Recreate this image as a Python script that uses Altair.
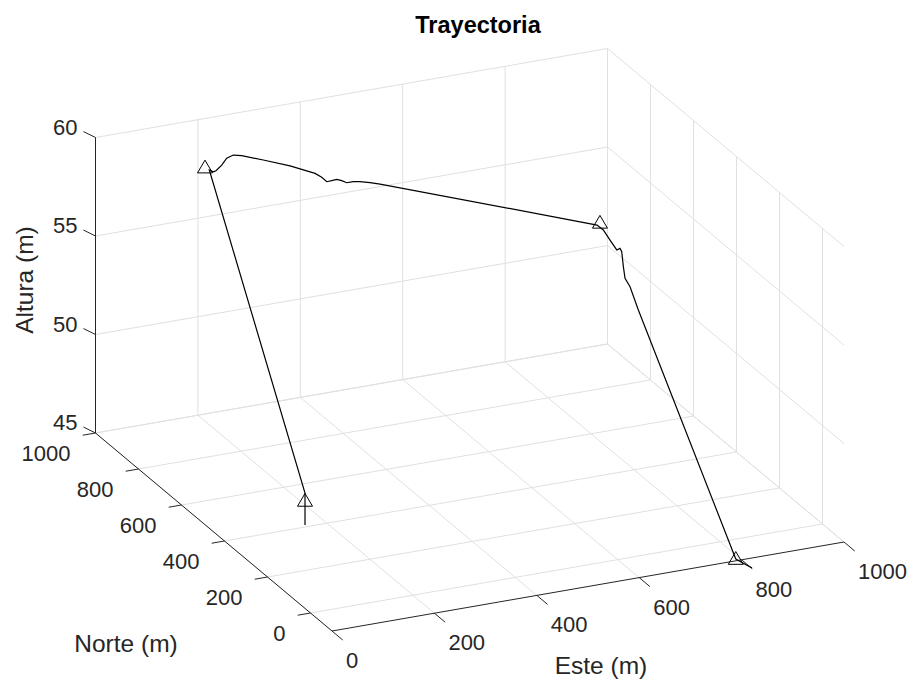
import altair as alt
import pandas as pd

# ---------------- data ----------------
titulo = "Trayectoria"
lab_este = "Este (m)"
lab_norte = "Norte (m)"
lab_altura = "Altura (m)"

este_ticks = [0, 200, 400, 600, 800, 1000]
norte_ticks = [0, 200, 400, 600, 800, 1000]
altura_ticks = [45, 50, 55, 60]
este_lim = [0, 1000]
norte_lim = [-100, 1000]
altura_lim = [45, 60]

# flown trajectory (Este, Norte, Altura)
tray_este = [161.1, 161.1, 200.8, 206.2, 209.8, 217.5, 224.2, 233.1, 244.4, 273.5,
             309.5, 343.2, 352.2, 359.0, 365.7, 372.4, 379.2, 385.9, 394.8, 403.8,
             417.3, 430.8, 723.1, 728.6, 731.8, 735.0, 736.6, 737.4, 738.2, 739.0,
             741.4, 745.4, 792.0, 801.0]
tray_norte = [409.2, 409.2, 948.8, 943.0, 939.1, 930.9, 923.7, 914.2, 902.0, 870.9,
              832.3, 796.2, 786.6, 779.3, 772.1, 764.9, 757.7, 750.5, 741.0, 731.3,
              716.8, 702.4, 389.2, 373.1, 349.5, 326.0, 314.4, 308.5, 302.8, 296.9,
              279.3, 250.2, -92.0, -146.0]
tray_altura = [45.0, 46.62, 57.91, 57.85, 57.92, 58.25, 58.63, 58.84, 58.87, 58.80,
               58.69, 58.49, 58.34, 58.15, 58.24, 58.34, 58.31, 58.24, 58.34, 58.39,
               58.41, 58.41, 57.87, 57.74, 57.43, 57.13, 57.31, 57.19, 56.48, 55.94,
               55.66, 54.73, 45.0, 45.0]

# waypoints (triangle markers)
wp_este = [161.1, 195.0, 727.0, 792.0]
wp_norte = [409.2, 955.0, 385.0, -92.0]
wp_altura = [46.22, 58.0, 58.0, 45.0]

# ---------------- 3D -> screen projection (view of the axes box) ----------------
def px(e, n):
    return f"310.5 + 0.512*datum.{e} - 0.215*datum.{n}"

def py(e, n, z):
    return f"613 - 0.089*datum.{e} - 0.18*datum.{n} - 19.7*(datum.{z} - 45)"

XS = alt.Scale(domain=[0, 915], range=[0, 915])
YS = alt.Scale(domain=[0, 683], range=[0, 683])

E0, E1 = este_lim
N0, N1 = norte_lim
Z0, Z1 = altura_lim

# grid segments built from the tick arrays
grid = []
for e in este_ticks:
    grid.append((e, N0, Z0, e, N1, Z0))      # floor
    grid.append((e, N1, Z0, e, N1, Z1))      # back wall
for n in norte_ticks:
    grid.append((E0, n, Z0, E1, n, Z0))      # floor
    grid.append((E1, n, Z0, E1, n, Z1))      # right wall
for z in altura_ticks:
    grid.append((E0, N1, z, E1, N1, z))      # back wall
    grid.append((E1, N0, z, E1, N1, z))      # right wall
grid_df = pd.DataFrame(grid, columns=["e1", "n1", "z1", "e2", "n2", "z2"])

axes_df = pd.DataFrame([
    (E0, N0, Z0, E1, N0, Z0),
    (E0, N0, Z0, E0, N1, Z0),
    (E0, N1, Z0, E0, N1, Z1),
], columns=["e1", "n1", "z1", "e2", "n2", "z2"])

ticks = []
for e in este_ticks:
    ticks.append((e, N0, Z0, e, N0 - 50, Z0))
for n in norte_ticks:
    ticks.append((E0, n, Z0, E0 - 25, n, Z0))
for z in altura_ticks:
    ticks.append((E0, N1, z, E0 - 8, N1 + 37, z))
ticks_df = pd.DataFrame(ticks, columns=["e1", "n1", "z1", "e2", "n2", "z2"])


def seg_layer(df, color, width):
    return alt.Chart(df).transform_calculate(
        sx=px("e1", "n1"), sy=py("e1", "n1", "z1"),
        sx2=px("e2", "n2"), sy2=py("e2", "n2", "z2"),
    ).mark_rule(color=color, strokeWidth=width).encode(
        x=alt.X("sx:Q", scale=XS, axis=None),
        y=alt.Y("sy:Q", scale=YS, axis=None),
        x2="sx2:Q", y2="sy2:Q",
    )

grid_layer = seg_layer(grid_df, "#e0e0e0", 1)
axes_layer = seg_layer(axes_df, "#262626", 1)
ticks_layer = seg_layer(ticks_df, "#262626", 1)

FONT = "Liberation Sans"
TICK_FS = 22
LAB_FS = 24.5

este_lab_df = pd.DataFrame({"e": este_ticks, "n": [N0] * len(este_ticks),
                            "z": [Z0] * len(este_ticks),
                            "t": [str(v) for v in este_ticks]})
norte_lab_df = pd.DataFrame({"e": [E0] * len(norte_ticks), "n": norte_ticks,
                             "z": [Z0] * len(norte_ticks),
                             "t": [str(v) for v in norte_ticks]})
alt_lab_df = pd.DataFrame({"e": [E0] * len(altura_ticks), "n": [N1] * len(altura_ticks),
                           "z": altura_ticks, "t": [str(v) for v in altura_ticks]})


def label_layer(df, align, dx, dy):
    return alt.Chart(df).transform_calculate(
        sx=px("e", "n"), sy=py("e", "n", "z"),
    ).mark_text(align=align, baseline="middle", dx=dx, dy=dy, font=FONT,
                fontSize=TICK_FS, color="#262626").encode(
        x=alt.X("sx:Q", scale=XS, axis=None),
        y=alt.Y("sy:Q", scale=YS, axis=None),
        text="t:N",
    )

este_labels = label_layer(este_lab_df, "left", 14, 30)
norte_labels = label_layer(norte_lab_df, "right", -25, 21)
alt_labels = label_layer(alt_lab_df, "right", -18, -10)

tray_df = pd.DataFrame({"i": list(range(len(tray_este))), "e": tray_este,
                        "n": tray_norte, "z": tray_altura})
tray_layer = alt.Chart(tray_df).transform_calculate(
    sx=px("e", "n"), sy=py("e", "n", "z"),
).mark_line(color="#000000", strokeWidth=1.2).encode(
    x=alt.X("sx:Q", scale=XS, axis=None),
    y=alt.Y("sy:Q", scale=YS, axis=None),
    order="i:Q",
)

wp_df = pd.DataFrame({"e": wp_este, "n": wp_norte, "z": wp_altura})
wp_layer = alt.Chart(wp_df).transform_calculate(
    sx=px("e", "n"), sy=py("e", "n", "z"),
).mark_point(shape="M0,-1L-1,0.7L1,0.7Z", size=225, filled=False,
             color="#000000", strokeWidth=1, opacity=1).encode(
    x=alt.X("sx:Q", scale=XS, axis=None),
    y=alt.Y("sy:Q", scale=YS, axis=None),
)

one = pd.DataFrame({"k": [0]})
title_layer = alt.Chart(one).mark_text(
    text=titulo, font=FONT, fontSize=23.5, fontWeight="bold", color="#000000",
    align="center", baseline="alphabetic").encode(x=alt.value(478), y=alt.value(33))
este_title = alt.Chart(one).mark_text(
    text=lab_este, font=FONT, fontSize=LAB_FS, color="#262626",
    align="center", baseline="alphabetic").encode(x=alt.value(601), y=alt.value(674))
norte_title = alt.Chart(one).mark_text(
    text=lab_norte, font=FONT, fontSize=LAB_FS, color="#262626",
    align="center", baseline="alphabetic").encode(x=alt.value(126), y=alt.value(652))
alt_title = alt.Chart(one).mark_text(
    text=lab_altura, font=FONT, fontSize=LAB_FS, color="#262626", angle=270,
    align="center", baseline="alphabetic").encode(x=alt.value(33), y=alt.value(280))

chart = alt.layer(
    grid_layer, axes_layer, ticks_layer,
    este_labels, norte_labels, alt_labels,
    tray_layer, wp_layer,
    title_layer, este_title, norte_title, alt_title,
).properties(
    width=915, height=683, padding=0, autosize="none", background="#ffffff",
).configure_view(strokeWidth=0)

chart.save("out.html", embed_options={"renderer": "svg", "actions": False})
